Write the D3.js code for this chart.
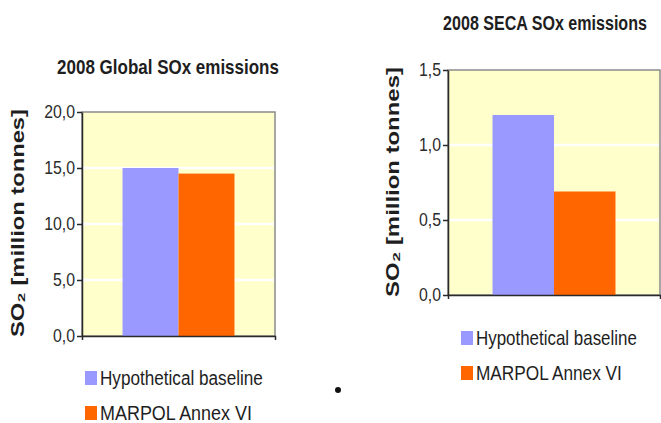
<!DOCTYPE html>
<html><head><meta charset="utf-8">
<script src="https://cdn.jsdelivr.net/npm/d3@7"></script>
<style>
html,body{margin:0;padding:0;background:#fff;}
svg{display:block;}
text{font-family:"Liberation Sans",Arial,sans-serif;}
</style></head>
<body>
<svg id="c" width="661" height="423"></svg>
<script>
const categories = ["2008"];
const seriesNames = ["Hypothetical baseline", "MARPOL Annex VI"];
const seriesColors = ["#9999FF", "#FF6600"];
const globalValues = [15.0, 14.5];
const secaValues = [1.2, 0.69];
const globalTicks = [0, 5, 10, 15, 20];
const secaTicks = [0, 0.5, 1.0, 1.5];
const titles = ["2008 Global SOx emissions", "2008 SECA SOx emissions"];
const yTitle = "SO₂ [million tonnes]";

const svg = d3.select("#c");
const fmt = v => d3.format(".1f")(v).replace(".", ",");

// place text at (x,y) [optionally rotated], squeezed along its own direction to width w
function fitText(sel, x, y, w, rot) {
  const n = sel.node().getComputedTextLength();
  const s = w / n;
  sel.attr("x", 0).attr("y", 0)
    .attr("transform", `translate(${x},${y})${rot ? " rotate(" + rot + ")" : ""} scale(${s},1)`);
}

function chart(cfg) {
  const g = svg.append("g");
  const x = d3.scaleBand().domain(categories).range([cfg.x0, cfg.x1]).paddingOuter(0.362).paddingInner(0);
  const xs = d3.scaleBand().domain(seriesNames).range([0, x.bandwidth()]).padding(0);
  const y = d3.scaleLinear().domain([0, d3.max(cfg.ticks)]).range([cfg.y1, cfg.y0]);

  g.append("rect").attr("x", cfg.x0).attr("y", cfg.y0)
    .attr("width", cfg.x1 - cfg.x0).attr("height", cfg.y1 - cfg.y0)
    .attr("fill", "#FFFFCC").attr("stroke", "#8a8a8a").attr("stroke-width", 1.5);
  g.selectAll(".grid").data(cfg.ticks.slice(1, -1)).join("line")
    .attr("x1", cfg.x0 + 1).attr("x2", cfg.x1 - 1)
    .attr("y1", d => y(d)).attr("y2", d => y(d))
    .attr("stroke", "#ffffff").attr("stroke-width", 2.5);
  categories.forEach((c, ci) => {
    g.selectAll(".bar" + ci).data(cfg.values).join("rect")
      .attr("x", (d, i) => x(c) + xs(seriesNames[i]))
      .attr("width", xs.bandwidth())
      .attr("y", d => y(d))
      .attr("height", d => y(0) - y(d))
      .attr("fill", (d, i) => seriesColors[i]);
  });
  const ya = g.append("g").attr("transform", `translate(${cfg.x0},0)`)
    .call(d3.axisLeft(y).tickValues(cfg.ticks).tickFormat(fmt).tickSize(5).tickSizeOuter(0).tickPadding(2));
  ya.selectAll("path,line").attr("stroke", "#2a2a2a").attr("stroke-width", 1.5);
  ya.selectAll("text")
    .style("font-size", cfg.tickFont + "px").attr("fill", "#2b2b2b")
    .each(function() {
      const t = d3.select(this);
      const w = this.getComputedTextLength();
      fitText(t, -7, 0, w * 0.88, 0);
    });
  const xa = g.append("g").attr("transform", `translate(0,${cfg.y1})`)
    .call(d3.axisBottom(x).tickSize(0).tickSizeOuter(4).tickFormat(""));
  xa.selectAll("path").attr("stroke", "#2a2a2a").attr("stroke-width", 1.5);

  const tt = g.append("text")
    .attr("text-anchor", "middle").attr("dominant-baseline", "central")
    .style("font-size", "20px").attr("font-weight", "bold").attr("fill", "#1e1e1e")
    .text(cfg.title);
  fitText(tt, cfg.tx, cfg.ty, cfg.tw, 0);
  const yt = g.append("text")
    .attr("text-anchor", "middle").attr("dominant-baseline", "central")
    .style("font-size", "18px").attr("font-weight", "bold").attr("fill", "#1e1e1e")
    .text(yTitle);
  fitText(yt, cfg.yx, cfg.yy, cfg.yl, -90);
  const lg = g.append("g");
  seriesNames.forEach((s, i) => {
    const cy = cfg.ly + i * cfg.lstep;
    lg.append("rect").attr("x", cfg.lx).attr("y", cy - 7).attr("width", 12).attr("height", 14)
      .attr("fill", seriesColors[i]);
    const lt = lg.append("text")
      .attr("dominant-baseline", "central")
      .style("font-size", "20px").attr("fill", "#1e1e1e")
      .text(s);
    fitText(lt, cfg.lx + 15, cy, cfg.lw[i], 0);
  });
}

chart({x0: 82, x1: 275, y0: 112, y1: 336, ticks: globalTicks, values: globalValues,
  tickFont: 18, title: titles[0], tx: 168, ty: 67, tw: 222,
  yx: 18, yy: 223, yl: 228, lx: 85, ly: 378, lstep: 35, lw: [163, 152]});
chart({x0: 448, x1: 660, y0: 70, y1: 295, ticks: secaTicks, values: secaValues,
  tickFont: 18, title: titles[1], tx: 545, ty: 23, tw: 204,
  yx: 393, yy: 182, yl: 230, lx: 461, ly: 338, lstep: 35, lw: [161, 146]});

svg.append("circle").attr("cx", 338).attr("cy", 390).attr("r", 3).attr("fill", "#111");
</script>
</body></html>
